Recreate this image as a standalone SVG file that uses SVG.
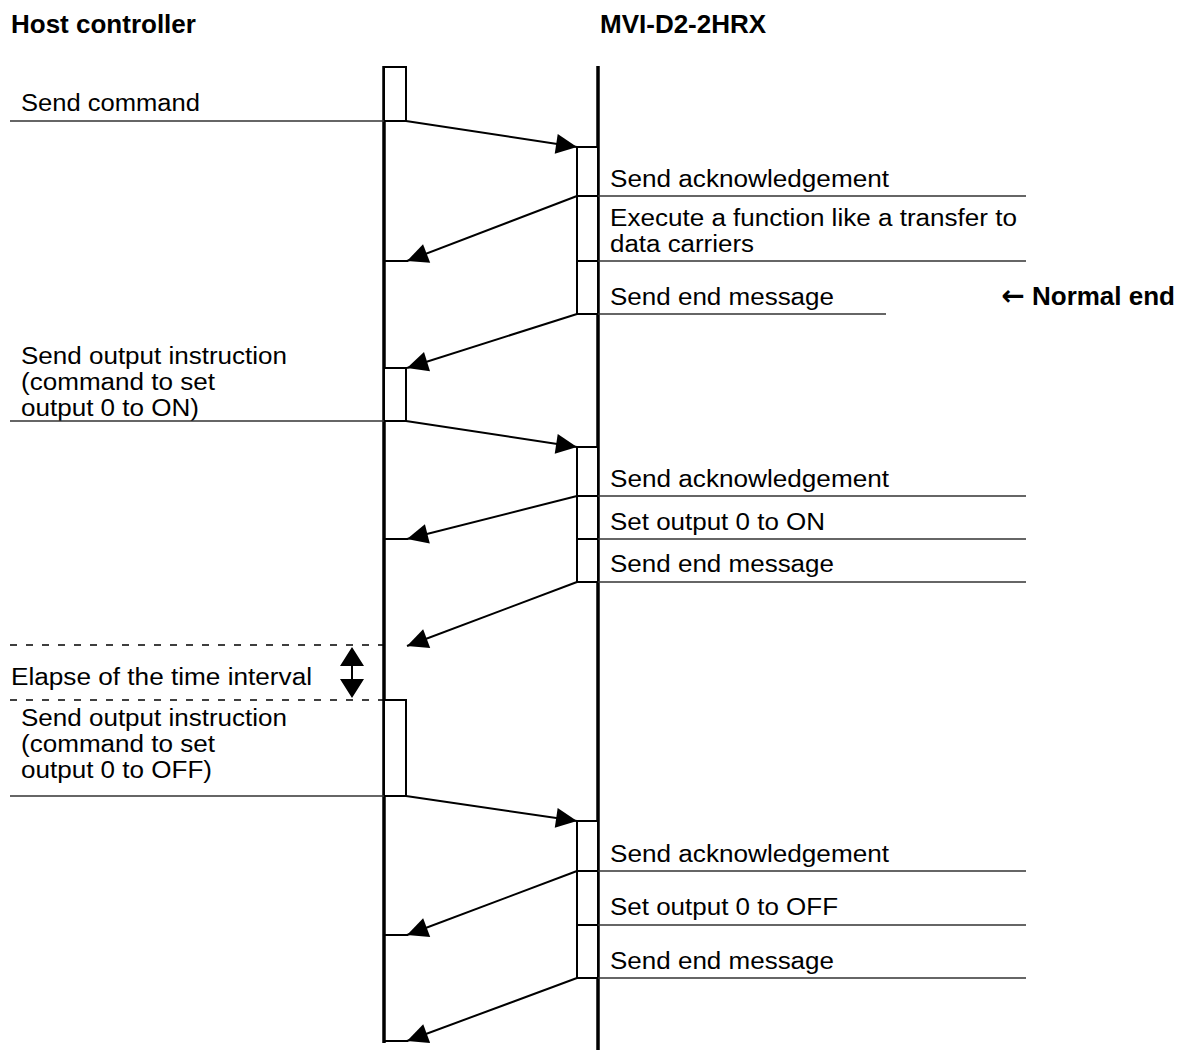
<svg xmlns="http://www.w3.org/2000/svg" width="1182" height="1050" viewBox="0 0 1182 1050">
<style>
text{font-family:"Liberation Sans",Arial,sans-serif;font-size:23px;fill:#000}
.b{font-weight:bold;font-size:26px}
.arr{font-family:"DejaVu Sans",sans-serif;font-weight:bold;font-size:28px}
.life{stroke:#000;stroke-width:3.5;fill:none}
.act{stroke:#000;stroke-width:2;fill:#fff}
.msg{stroke:#000;stroke-width:2;fill:none}
.ul{stroke:#333;stroke-width:1.5;fill:none}
.dash{stroke:#000;stroke-width:1.5;stroke-dasharray:7 9;fill:none}
</style>
<defs>
<marker id="ah" markerUnits="userSpaceOnUse" markerWidth="24" markerHeight="24" viewBox="-22 -11 24 22" refX="0" refY="0" orient="auto">
<path d="M0,0 L-21,-10 L-21,10 z" fill="#000"/>
</marker>
</defs>
<rect width="1182" height="1050" fill="#fff"/>
<g id="headers">
<text class="b" x="11" y="33">Host controller</text>
<text class="b" x="600" y="33">MVI-D2-2HRX</text>
</g>
<g id="host-lifeline">
<line class="life" x1="384" y1="66" x2="384" y2="1043"/>
</g>
<g id="device-lifeline">
<line class="life" x1="598" y1="66" x2="598" y2="1050"/>
</g>
<g id="host-act-1">
<rect class="act" x="384" y="67" width="22" height="54"/>
<text x="21" y="111" textLength="179" lengthAdjust="spacingAndGlyphs">Send command</text>
<line class="ul" x1="10" y1="121" x2="384" y2="121"/>
</g>
<g id="device-act-1">
<rect class="act" x="577" y="147" width="21" height="167"/>
<line class="msg" x1="577" y1="196" x2="598" y2="196"/>
<line class="msg" x1="577" y1="261" x2="598" y2="261"/>
<text x="610" y="187" textLength="279" lengthAdjust="spacingAndGlyphs">Send acknowledgement</text>
<line class="ul" x1="598" y1="196" x2="1026" y2="196"/>
<text x="610" y="226" textLength="407" lengthAdjust="spacingAndGlyphs">Execute a function like a transfer to</text>
<text x="610" y="252" textLength="144" lengthAdjust="spacingAndGlyphs">data carriers</text>
<line class="ul" x1="598" y1="261" x2="1026" y2="261"/>
<text x="610" y="305" textLength="224" lengthAdjust="spacingAndGlyphs">Send end message</text>
<line class="ul" x1="598" y1="314" x2="886" y2="314"/>
</g>
<g id="normal-end">
<text class="b" x="1175" y="305" text-anchor="end"><tspan class="arr">←</tspan> Normal end</text>
</g>
<g id="host-act-2">
<rect class="act" x="384" y="368" width="22" height="53"/>
<text x="21" y="364" textLength="266" lengthAdjust="spacingAndGlyphs">Send output instruction</text>
<text x="21" y="390" textLength="194" lengthAdjust="spacingAndGlyphs">(command to set</text>
<text x="21" y="416" textLength="178" lengthAdjust="spacingAndGlyphs">output 0 to ON)</text>
<line class="ul" x1="10" y1="421" x2="384" y2="421"/>
</g>
<g id="device-act-2">
<rect class="act" x="577" y="447" width="21" height="135"/>
<line class="msg" x1="577" y1="496" x2="598" y2="496"/>
<line class="msg" x1="577" y1="539" x2="598" y2="539"/>
<text x="610" y="487" textLength="279" lengthAdjust="spacingAndGlyphs">Send acknowledgement</text>
<line class="ul" x1="598" y1="496" x2="1026" y2="496"/>
<text x="610" y="530" textLength="215" lengthAdjust="spacingAndGlyphs">Set output 0 to ON</text>
<line class="ul" x1="598" y1="539" x2="1026" y2="539"/>
<text x="610" y="572" textLength="224" lengthAdjust="spacingAndGlyphs">Send end message</text>
<line class="ul" x1="598" y1="582" x2="1026" y2="582"/>
</g>
<g id="interval">
<line class="dash" x1="10" y1="645" x2="384" y2="645"/>
<line class="dash" x1="10" y1="700" x2="384" y2="700"/>
<text x="11" y="685" textLength="301" lengthAdjust="spacingAndGlyphs">Elapse of the time interval</text>
<path d="M352,647 L340,666 L364,666 z M352,698 L340,679 L364,679 z" fill="#000"/>
<line x1="352" y1="664" x2="352" y2="681" stroke="#000" stroke-width="2"/>
</g>
<g id="host-act-3">
<rect class="act" x="384" y="700" width="22" height="96"/>
<text x="21" y="726" textLength="266" lengthAdjust="spacingAndGlyphs">Send output instruction</text>
<text x="21" y="752" textLength="194" lengthAdjust="spacingAndGlyphs">(command to set</text>
<text x="21" y="778" textLength="191" lengthAdjust="spacingAndGlyphs">output 0 to OFF)</text>
<line class="ul" x1="10" y1="796" x2="384" y2="796"/>
</g>
<g id="device-act-3">
<rect class="act" x="577" y="821" width="21" height="157"/>
<line class="msg" x1="577" y1="871" x2="598" y2="871"/>
<line class="msg" x1="577" y1="925" x2="598" y2="925"/>
<text x="610" y="862" textLength="279" lengthAdjust="spacingAndGlyphs">Send acknowledgement</text>
<line class="ul" x1="598" y1="871" x2="1026" y2="871"/>
<text x="610" y="915" textLength="228" lengthAdjust="spacingAndGlyphs">Set output 0 to OFF</text>
<line class="ul" x1="598" y1="925" x2="1026" y2="925"/>
<text x="610" y="969" textLength="224" lengthAdjust="spacingAndGlyphs">Send end message</text>
<line class="ul" x1="598" y1="978" x2="1026" y2="978"/>
</g>
<g id="connectors">
<line class="msg" x1="406" y1="121" x2="577" y2="147" marker-end="url(#ah)"/>
<line class="msg" x1="577" y1="196" x2="407" y2="261" marker-end="url(#ah)"/>
<line class="msg" x1="384" y1="261" x2="408" y2="261"/>
<line class="msg" x1="577" y1="314" x2="407" y2="368" marker-end="url(#ah)"/>
<line class="msg" x1="406" y1="421" x2="577" y2="447" marker-end="url(#ah)"/>
<line class="msg" x1="577" y1="496" x2="407" y2="539" marker-end="url(#ah)"/>
<line class="msg" x1="384" y1="539" x2="408" y2="539"/>
<line class="msg" x1="577" y1="582" x2="407" y2="646" marker-end="url(#ah)"/>
<line class="msg" x1="406" y1="796" x2="577" y2="821" marker-end="url(#ah)"/>
<line class="msg" x1="577" y1="871" x2="407" y2="935" marker-end="url(#ah)"/>
<line class="msg" x1="384" y1="935" x2="408" y2="935"/>
<line class="msg" x1="577" y1="978" x2="407" y2="1041" marker-end="url(#ah)"/>
<line class="msg" x1="384" y1="1041" x2="408" y2="1041"/>
</g>
</svg>
